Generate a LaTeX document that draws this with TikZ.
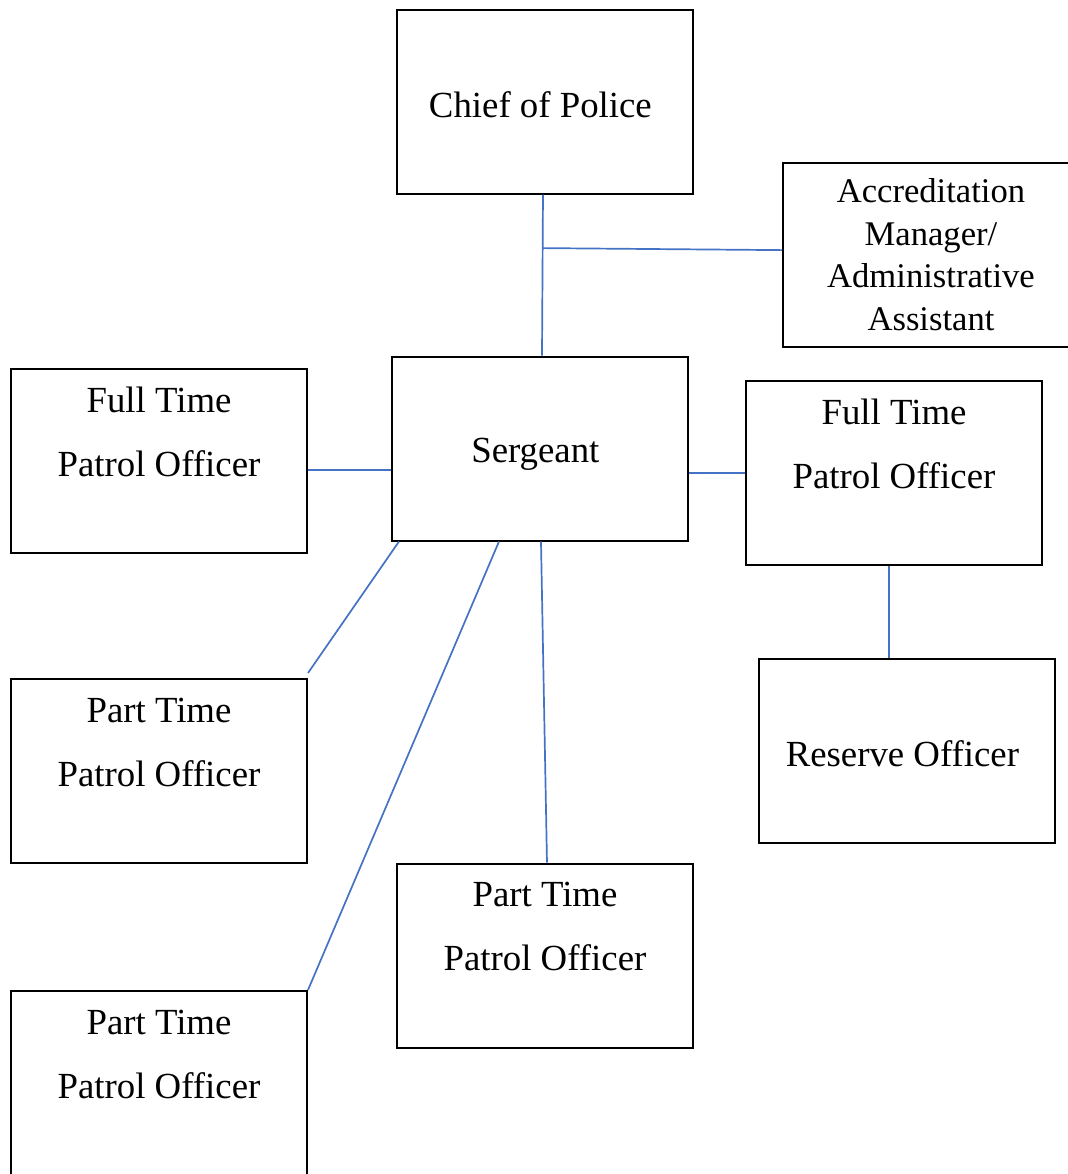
\documentclass[tikz,border=0pt]{standalone}
\usepackage{fontspec}
\setmainfont{Liberation Serif}
\usepackage{tikz}
\definecolor{linkcolor}{RGB}{68,114,196}
\usetikzlibrary{arrows.meta}

\begin{document}
\begin{tikzpicture}[
                base/.style = {rectangle, draw=black, line width=1pt,
                            minimum width=148pt, minimum height=92pt, inner sep=0pt,
                            text centered, align=center},
                role/.style = {base, font=\fontsize{18.4}{32}\selectfont},
                roleTight/.style = {base, font=\fontsize{17.3}{21.3}\selectfont},
                link/.style = {draw=linkcolor, line width=0.85pt},
            node distance=155pt]
            \useasboundingbox (-272.5pt,50.75pt) rectangle (261.5pt,-536.25pt);
            \node (ChiefOfPolice) [role] {
                \rule{0pt}{15.7pt}Chief of Police
            };
            \node (Sergeant) [role, below of=ChiefOfPolice, yshift=-18.5pt, xshift=-2.5pt] {
                \rule{0pt}{17.7pt}Sergeant
            };
            \node (AccreditationManager) [roleTight, right of=ChiefOfPolice, xshift=38pt, yshift=-76.5pt] {
                Accreditation\\Manager/\\Administrative\\Assistant
            };
            \node (FullTimeLeft) [role, left of=Sergeant, xshift=-35.5pt, yshift=-6.25pt] {
                Full Time\\Patrol Officer\\[-3pt]~
            };
            \node (FullTimeRight) [role, right of=Sergeant, xshift=22pt, yshift=-12.25pt] {
                Full Time\\Patrol Officer\\[-3pt]~
            };
            \node (ReserveOfficer) [role, below of=FullTimeRight, yshift=16pt, xshift=6.5pt] {
                \rule{0pt}{15.7pt}Reserve Officer
            };
            \node (PartTimeUpper) [role, below of=FullTimeLeft] {
                Part Time\\Patrol Officer\\[-3pt]~
            };
            \node (PartTimeLower) [role, below of=PartTimeUpper, yshift=-1pt] {
                Part Time\\Patrol Officer\\[-3pt]~
            };
            \node (PartTimeCentre) [role, below of=Sergeant, yshift=-98.5pt, xshift=2.5pt] {
                Part Time\\Patrol Officer\\[-3pt]~
            };
            \draw[link] ([xshift=-1pt]ChiefOfPolice.south) -- ([xshift=1pt]Sergeant.north) coordinate[pos=0.333] (Junction);
            \draw[link] (Junction) -- ([yshift=-1pt]Junction -| AccreditationManager.west);
            \draw[link] ([yshift=-4.5pt]FullTimeLeft.east) coordinate (LeftLink) -- (LeftLink -| Sergeant.west);
            \draw[link] (FullTimeRight.west) -- (FullTimeRight.west -| Sergeant.east);
            \draw[link] ([xshift=-2.5pt]FullTimeRight.south) coordinate (ReserveLink) -- (ReserveLink |- ReserveOfficer.north);
            \draw[link] ([xshift=4pt]Sergeant.south west) -- ([yshift=2.5pt]PartTimeUpper.north east);
            \draw[link] ([xshift=-20.5pt]Sergeant.south) -- (PartTimeLower.north east);
            \draw[link] ([xshift=0.5pt]Sergeant.south) -- ([xshift=1pt]PartTimeCentre.north);
        \end{tikzpicture}
\end{document}
